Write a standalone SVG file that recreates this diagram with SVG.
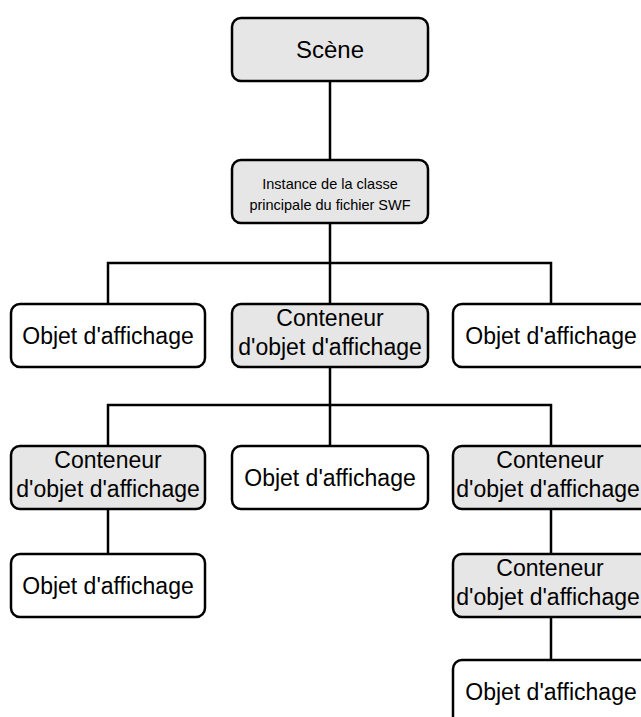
<svg xmlns="http://www.w3.org/2000/svg" width="641" height="717" viewBox="0 0 641 717">
<style>
.box{stroke:#000;stroke-width:2.5;}
.g{fill:#e6e6e6;}
.w{fill:#fff;}
.t{font-family:"Liberation Sans",Arial,sans-serif;font-size:23px;fill:#000;text-anchor:middle;}
.s{font-size:14.5px;}
.c{fill:none;stroke:#000;stroke-width:2.5;}
</style>
<rect width="641" height="717" fill="#fff"/>
<g id="connectors">
<path class="c" d="M330 81V160"/>
<path class="c" d="M330 223V263M108 304V263H551V304M330 263V304"/>
<path class="c" d="M330 367V405M108 446V405H551V446M330 405V446"/>
<path class="c" d="M108 509V554"/>
<path class="c" d="M551 509V554M551 617V660"/>
</g>
<g id="scene"><rect class="box g" x="232" y="18" width="196" height="63" rx="9"/><text class="t" x="330" y="58" style="font-size:24px">Scène</text></g>
<g id="instance"><rect class="box g" x="232" y="160" width="196" height="63" rx="9"/><text class="t s" x="330" y="189">Instance de la classe</text><text class="t s" x="330" y="210">principale du fichier SWF</text></g>
<g id="obj1"><rect class="box w" x="11" y="304" width="194" height="63" rx="9"/><text class="t" x="108" y="344">Objet d'affichage</text></g>
<g id="cont1"><rect class="box g" x="232" y="304" width="196" height="63" rx="9"/><text class="t" x="330" y="326">Conteneur</text><text class="t" x="330" y="355">d'objet d'affichage</text></g>
<g id="obj2"><rect class="box w" x="453" y="304" width="200" height="63" rx="9"/><text class="t" x="551" y="344">Objet d'affichage</text></g>
<g id="cont2"><rect class="box g" x="11" y="446" width="194" height="63" rx="9"/><text class="t" x="108" y="468">Conteneur</text><text class="t" x="108" y="497">d'objet d'affichage</text></g>
<g id="obj3"><rect class="box w" x="232" y="446" width="196" height="63" rx="9"/><text class="t" x="330" y="486">Objet d'affichage</text></g>
<g id="cont3"><rect class="box g" x="453" y="446" width="200" height="63" rx="9"/><text class="t" x="550" y="468">Conteneur</text><text class="t" x="548" y="497">d'objet d'affichage</text></g>
<g id="obj4"><rect class="box w" x="11" y="554" width="194" height="63" rx="9"/><text class="t" x="108" y="594">Objet d'affichage</text></g>
<g id="cont4"><rect class="box g" x="453" y="554" width="200" height="63" rx="9"/><text class="t" x="550" y="576">Conteneur</text><text class="t" x="548" y="605">d'objet d'affichage</text></g>
<g id="obj5"><rect class="box w" x="453" y="660" width="200" height="70" rx="9"/><text class="t" x="551" y="700">Objet d'affichage</text></g>
</svg>
